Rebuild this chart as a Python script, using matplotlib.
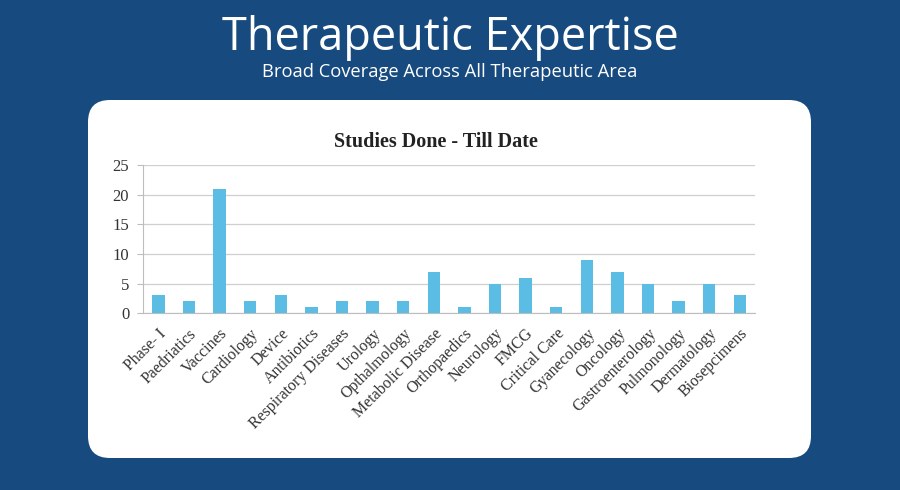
import matplotlib.pyplot as plt
from matplotlib.patches import FancyBboxPatch

# data
categories = ['Phase- I', 'Paedriatics', 'Vaccines', 'Cardiology', 'Device', 'Antibiotics',
              'Respiratory Diseases', 'Urology', 'Opthalmology', 'Metabolic Disease',
              'Orthopaedics', 'Neurology', 'FMCG', 'Critical Care', 'Gyanecology',
              'Oncology', 'Gastroenterology', 'Pulmonology', 'Dermatology', 'Biosepcimens']
studies = [3, 2, 21, 2, 3, 1, 2, 2, 2, 7, 1, 5, 6, 1, 9, 7, 5, 2, 5, 3]
y_ticks = [0, 5, 10, 15, 20, 25]

bg_blue = '#174A7E'
bar_blue = '#5BBDE4'
serif = ['Liberation Serif', 'DejaVu Serif']

fig = plt.figure(figsize=(9, 4.9), dpi=100)
fig.patch.set_facecolor(bg_blue)

# full-figure axes in pixel units for the white panel
bg = fig.add_axes([0, 0, 1, 1])
bg.set_xlim(0, 900)
bg.set_ylim(490, 0)
bg.axis('off')
panel = FancyBboxPatch((88, 100), 723, 358, boxstyle='round,pad=0,rounding_size=22',
                       facecolor='white', edgecolor='none')
bg.add_patch(panel)

# headings
fig.text(0.5, 0.922, 'Therapeutic Expertise', color='white', fontsize=32.5,
         family='Open Sans', ha='center', va='center')
fig.text(0.5, 0.853, 'Broad Coverage Across All Therapeutic Area', color='white',
         fontsize=13.2, family='Open Sans', ha='center', va='center')

# bar chart
ax = fig.add_axes([0.159, 0.361, 0.68, 0.302])
x = range(len(categories))
ax.bar(x, studies, width=0.4, color=bar_blue, zorder=3)
ax.set_xlim(-0.5, len(categories) - 0.5)
ax.set_ylim(0, 25)
ax.set_yticks(y_ticks)
ax.set_yticklabels([str(v) for v in y_ticks], family=serif, fontsize=12, color='#333333')
ax.set_xticks(list(x))
ax.set_xticklabels(categories, rotation=45, ha='right', rotation_mode='anchor',
                   family=serif, fontsize=11.5, color='#333333')
ax.grid(axis='y', color='#cfcfcf', linewidth=0.9, zorder=0)
for side in ['top', 'right']:
    ax.spines[side].set_visible(False)
ax.spines['left'].set_color('#bdbdbd')
ax.spines['bottom'].set_color('#bdbdbd')
ax.tick_params(axis='y', length=4, color='#bdbdbd', pad=6)
ax.tick_params(axis='x', length=0, pad=9)
ax.set_facecolor('white')
ax.set_title('Studies Done - Till Date', family=serif, fontsize=14.5, fontweight='bold',
             color='#222222', pad=13, x=0.479)

fig.savefig('out.png', dpi=100, facecolor=bg_blue)
